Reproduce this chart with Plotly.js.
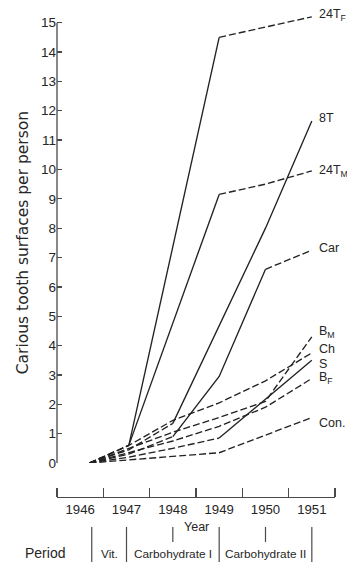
<!DOCTYPE html>
<html><head><meta charset="utf-8">
<script src="https://cdn.plot.ly/plotly-3.0.1.min.js"></script>
<style>html,body{margin:0;padding:0;background:#fff}</style>
</head><body><div id="chart" style="width:347px;height:564px"></div>
<script>
// ---- data ----
const seriesLabels = ['24T<sub>F</sub>', '8T', '24T<sub>M</sub>', 'Car', 'B<sub>M</sub>', 'Ch', 'S', 'B<sub>F</sub>', 'Con.'];
const x24TF = [1946.2, 1947.05, 1949, 1951];
const y24TF = [0, 0.6, 14.5, 15.2];
const x8T = [1946.2, 1947.05, 1948, 1950, 1951];
const y8T = [0, 0.45, 1.35, 8.0, 11.65];
const x24TM = [1946.2, 1947.05, 1949, 1950, 1951];
const y24TM = [0, 0.6, 9.15, 9.5, 9.95];
const xCar = [1946.2, 1947.05, 1948, 1949, 1950, 1951];
const yCar = [0, 0.3, 0.9, 2.95, 6.6, 7.25];
const xBM = [1946.2, 1947.05, 1948, 1949, 1950, 1951];
const yBM = [0, 0.5, 1.05, 1.55, 2.1, 4.3];
const xCh = [1946.2, 1947.05, 1948, 1949, 1950, 1951];
const yCh = [0, 0.6, 1.45, 2.05, 2.8, 3.75];
const xS = [1946.2, 1947.05, 1948, 1949, 1951];
const yS = [0, 0.2, 0.5, 0.85, 3.5];
const xBF = [1946.2, 1947.05, 1948, 1949, 1950, 1951];
const yBF = [0, 0.35, 0.75, 1.25, 1.9, 2.88];
const xCon = [1946.2, 1949, 1951];
const yCon = [0, 0.35, 1.55];

const yearTicks = [1946, 1947, 1948, 1949, 1950, 1951];
const yearBounds = [1945.5, 1946.5, 1947.5, 1948.5, 1949.5, 1950.5, 1951.5];
const yTicks = [0,1,2,3,4,5,6,7,8,9,10,11,12,13,14,15];
const periodNames = ['Vit.', 'Carbohydrate I', 'Carbohydrate II'];
const periodStart = [1946.25, 1947, 1949];
const periodEnd = [1947, 1949, 1951];
const periodMidTicks = [1948, 1950];

// ---- styles (separate from data) ----
const segStyles = [
  ['d','s','d'],            // 24T_F
  ['d','d','s','s'],        // 8T
  ['d','s','d','d'],        // 24T_M
  ['d','d','s','s','d'],    // Car
  ['d','d','d','d','d'],    // B_M
  ['d','d','d','d','d'],    // Ch
  ['d','d','d','s'],        // S
  ['d','d','d','d','d'],    // B_F
  ['d','d']                 // Con.
];
const labelDy = [2, 3, 0, 2, 5, 4, -4, 0, -5];
const LINE = '#222', AXIS = '#4a4a4a', TXT = '#262626';
const SANS = '"Liberation Sans", Arial, sans-serif';

const allX = [x24TF, x8T, x24TM, xCar, xBM, xCh, xS, xBF, xCon];
const allY = [y24TF, y8T, y24TM, yCar, yBM, yCh, yS, yBF, yCon];

const traces = [];
allX.forEach((xs, k) => {
  const ys = allY[k], st = segStyles[k];
  let i = 0;
  while (i < st.length) {
    let j = i;
    while (j + 1 < st.length && st[j + 1] === st[i]) j++;
    traces.push({
      x: xs.slice(i, j + 2), y: ys.slice(i, j + 2), type: 'scatter', mode: 'lines',
      line: {color: LINE, width: 1.35, dash: st[i] === 'd' ? '7px,3px' : 'solid'},
      hoverinfo: 'skip', showlegend: false
    });
    i = j + 1;
  }
});

const annotations = [];
allX.forEach((xs, k) => {
  annotations.push({
    x: xs[xs.length - 1], y: allY[k][allY[k].length - 1], xref: 'x', yref: 'y',
    text: seriesLabels[k], showarrow: false, xanchor: 'left', yanchor: 'middle',
    xshift: 5, yshift: labelDy[k], font: {family: SANS, size: 12.5, color: TXT}
  });
});
// axis titles
annotations.push({x: -0.1223, y: 0.519, xref: 'paper', yref: 'paper', text: 'Carious tooth surfaces per person',
  textangle: -90, showarrow: false, xanchor: 'center', yanchor: 'middle',
  font: {family: '"DejaVu Sans", sans-serif', size: 15.5, color: TXT}});
annotations.push({x: 0.5, y: -0.0613, xref: 'paper', yref: 'paper', text: 'Year', showarrow: false,
  xanchor: 'center', yanchor: 'middle', font: {family: SANS, size: 12.5, color: TXT}});
annotations.push({x: -0.043, y: -0.1145, xref: 'paper', yref: 'paper', text: 'Period', showarrow: false,
  xanchor: 'center', yanchor: 'middle', font: {family: SANS, size: 14, color: TXT}});
periodNames.forEach((p, i) => {
  annotations.push({x: (periodStart[i] + periodEnd[i]) / 2, y: -0.1165, xref: 'x', yref: 'paper', text: p,
    showarrow: false, xanchor: 'center', yanchor: 'middle', font: {family: SANS, size: 11.8, color: TXT}});
});

const shapes = [];
// y axis line from 0 to 15
shapes.push({type: 'line', xref: 'paper', yref: 'y', x0: 0, x1: 0, y0: 0, y1: yTicks[yTicks.length - 1],
  line: {color: AXIS, width: 1.3}});
// period separators
const seps = [periodStart[0]].concat(periodEnd);
seps.forEach(v => shapes.push({type: 'line', xref: 'x', yref: 'paper', x0: v, x1: v, y0: -0.0613, y1: -0.1329,
  line: {color: AXIS, width: 1.2}}));
periodMidTicks.forEach(v => shapes.push({type: 'line', xref: 'x', yref: 'paper', x0: v, x1: v, y0: -0.0613, y1: -0.092,
  line: {color: AXIS, width: 1.2}}));

const layout = {
  width: 347, height: 564,
  margin: {l: 57, r: 12, t: 8, b: 67, pad: 0},
  paper_bgcolor: '#fff', plot_bgcolor: '#fff',
  showlegend: false,
  xaxis: {
    range: [1945.5, 1951.5], anchor: 'free', position: 0,
    showline: true, linecolor: AXIS, linewidth: 1.3,
    tickmode: 'array', tickvals: yearTicks, ticktext: yearTicks.map(String), ticks: '',
    minor: {tickmode: 'array', tickvals: yearBounds, ticks: 'inside', ticklen: 9, tickwidth: 1.3, tickcolor: AXIS, showgrid: false},
    showgrid: false, zeroline: false,
    tickfont: {family: SANS, size: 13.2, color: TXT}, fixedrange: true
  },
  yaxis: {
    range: [0, 15.5], domain: [0.06953, 1],
    showline: false, zeroline: false, showgrid: false,
    tickmode: 'array', tickvals: yTicks, ticks: 'inside', ticklen: 5, tickwidth: 1.3, tickcolor: AXIS,
    tickfont: {family: SANS, size: 13.5, color: TXT}, fixedrange: true
  },
  annotations: annotations,
  shapes: shapes
};

Plotly.newPlot('chart', traces, layout, {staticPlot: true, displayModeBar: false});
</script>
</body></html>
